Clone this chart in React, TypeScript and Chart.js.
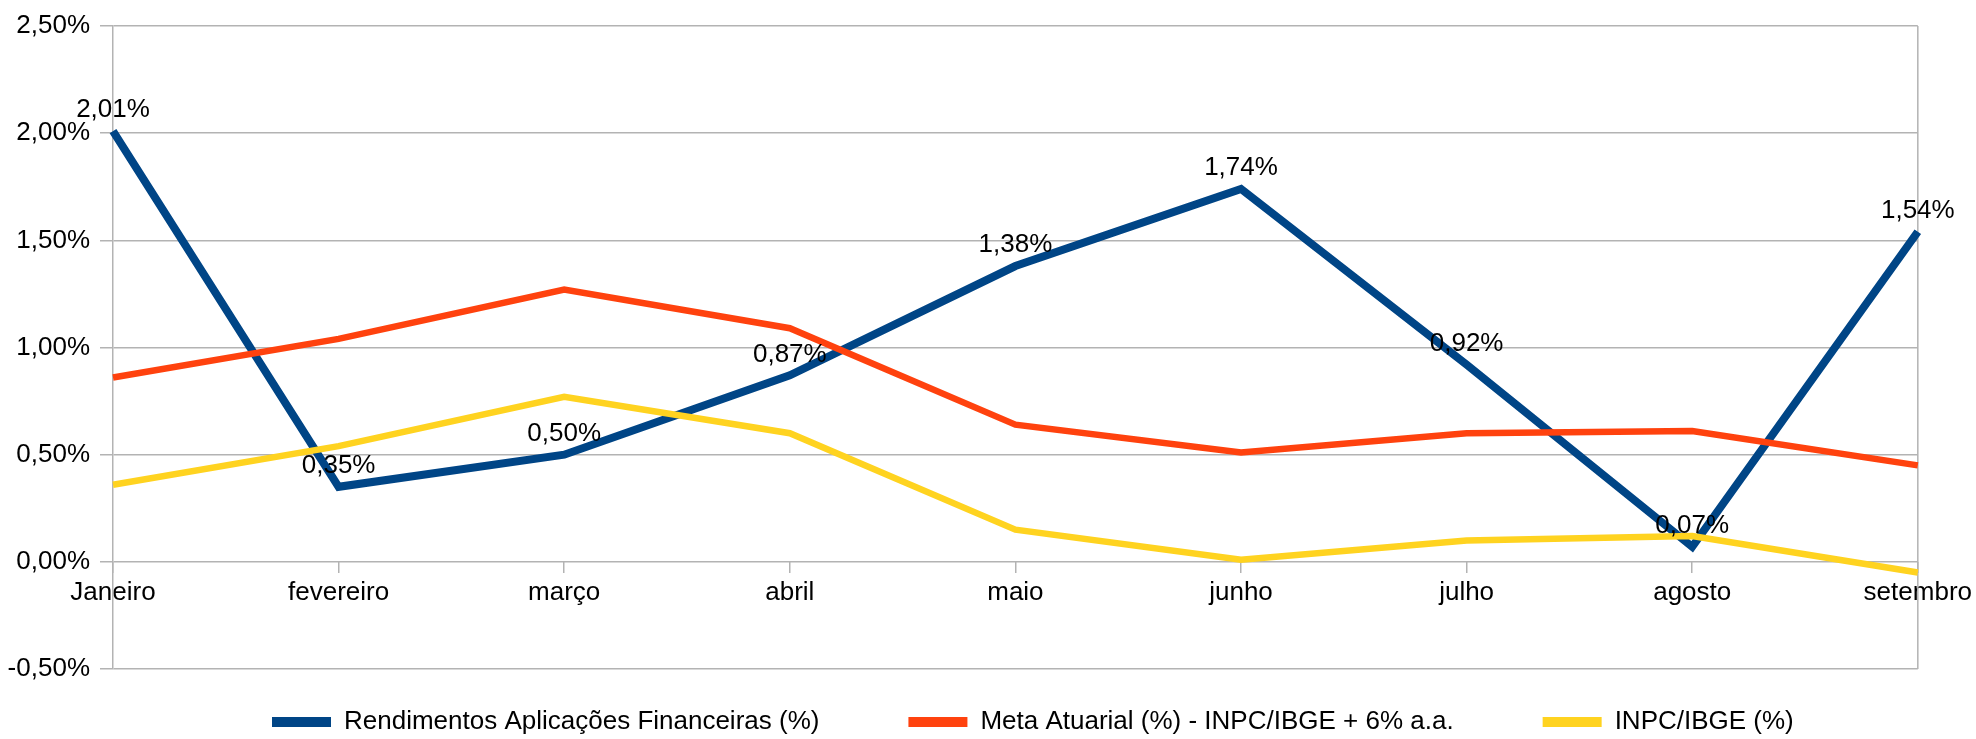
import React, { useEffect, useRef } from "react";
import { Chart, registerables } from "chart.js";

Chart.register(...registerables);

const categories = ["Janeiro", "fevereiro", "março", "abril", "maio", "junho", "julho", "agosto", "setembro"];
const rendimentos = [2.01, 0.35, 0.5, 0.87, 1.38, 1.74, 0.92, 0.07, 1.54];
const metaAtuarial = [0.86, 1.04, 1.27, 1.09, 0.64, 0.51, 0.6, 0.61, 0.45];
const inpc = [0.36, 0.54, 0.77, 0.6, 0.15, 0.01, 0.1, 0.12, -0.05];
const seriesNames = [
  "Rendimentos Aplicações Financeiras (%)",
  "Meta Atuarial (%) - INPC/IBGE + 6% a.a.",
  "INPC/IBGE (%)",
];
const yMin = -0.5;
const yMax = 2.5;
const yStep = 0.5;

const FONT = "'Liberation Sans', Arial, sans-serif";
const GRID = "#b3b3b3";
const fmt = (v: number) => v.toFixed(2).replace(".", ",") + "%";

const legendStartX = 272;
const legendCenterY = 722;

const rightBorder = {
  id: "rightBorder",
  beforeDatasetsDraw(chart: any) {
    const { ctx, chartArea } = chart;
    ctx.save();
    ctx.strokeStyle = GRID;
    ctx.lineWidth = 1.5;
    ctx.beginPath();
    ctx.moveTo(chartArea.right, chartArea.top);
    ctx.lineTo(chartArea.right, chartArea.bottom);
    ctx.stroke();
    ctx.restore();
  },
};

const dataLabels = {
  id: "dataLabels",
  afterDatasetsDraw(chart: any) {
    const { ctx } = chart;
    const meta = chart.getDatasetMeta(0);
    ctx.save();
    ctx.font = `26px ${FONT}`;
    ctx.fillStyle = "#000";
    ctx.textAlign = "center";
    ctx.textBaseline = "middle";
    meta.data.forEach((pt: any, i: number) => {
      ctx.fillText(fmt(rendimentos[i]), pt.x, pt.y - 21);
    });
    ctx.restore();
  },
};

const legendPlacer = {
  id: "legendPlacer",
  afterLayout(chart: any) {
    const lg = chart.legend;
    if (!lg || !lg.lineWidths) return;
    const pad = lg.options.labels.padding;
    const lineWidth = lg.lineWidths[0];
    // cursor x = (left + pad + right - lineWidth) / 2
    lg.left = 0;
    lg.right = 2 * legendStartX - pad + lineWidth;
    lg.top = legendCenterY - 13 - pad;
  },
};

export default function App() {
  const ref = useRef<HTMLCanvasElement | null>(null);

  useEffect(() => {
    if (!ref.current) return;
    const chart = new Chart(ref.current, {
      type: "line",
      data: {
        labels: categories,
        datasets: [
          {
            label: seriesNames[0],
            data: rendimentos,
            borderColor: "#004586",
            backgroundColor: "#004586",
            borderWidth: 8,
            pointRadius: 0,
            tension: 0,
            order: 3,
          },
          {
            label: seriesNames[1],
            data: metaAtuarial,
            borderColor: "#ff420e",
            backgroundColor: "#ff420e",
            borderWidth: 6.5,
            pointRadius: 0,
            tension: 0,
            order: 2,
          },
          {
            label: seriesNames[2],
            data: inpc,
            borderColor: "#ffd320",
            backgroundColor: "#ffd320",
            borderWidth: 6.5,
            pointRadius: 0,
            tension: 0,
            order: 1,
          },
        ],
      },
      options: {
        responsive: false,
        animation: false,
        devicePixelRatio: 1,
        layout: { padding: { left: 0, right: 58, top: 26, bottom: 0 } },
        plugins: {
          tooltip: { enabled: false },
          legend: {
            position: "bottom",
            maxHeight: 70,
            labels: {
              boxWidth: 59,
              boxHeight: 10,
              padding: 89,
              color: "#000",
              font: { size: 26, family: FONT },
              generateLabels(chart: any) {
                const items = Chart.defaults.plugins.legend.labels.generateLabels(chart);
                return items
                  .map((it: any) => ({ ...it, lineWidth: 0 }))
                  .sort((a: any, b: any) => a.datasetIndex - b.datasetIndex);
              },
            },
          },
        },
        scales: {
          x: {
            type: "category",
            position: { y: 0 } as any,
            offset: false,
            grid: {
              display: true,
              drawOnChartArea: false,
              drawTicks: true,
              tickLength: 11,
              color: GRID,
              lineWidth: 1.5,
            },
            border: { display: false },
            ticks: {
              autoSkip: false,
              maxRotation: 0,
              padding: 4,
              color: "#000",
              font: { size: 26, family: FONT },
            },
          },
          y: {
            min: yMin,
            max: yMax,
            afterFit(scale: any) {
              scale.width = 113;
            },
            grid: {
              color: GRID,
              lineWidth: 1.5,
              tickLength: 13,
            },
            border: { display: true, color: GRID, width: 1.5 },
            ticks: {
              stepSize: yStep,
              padding: 10,
              color: "#000",
              font: { size: 26, family: FONT },
              callback: (v: any) => fmt(Number(v)),
            },
          },
        },
      },
      plugins: [rightBorder, dataLabels, legendPlacer],
    });
    return () => chart.destroy();
  }, []);

  return (
    <div style={{ position: "absolute", left: 0, top: 0, width: 1976, height: 739, background: "#fff" }}>
      <canvas ref={ref} width={1976} height={739} style={{ display: "block" }} />
    </div>
  );
}
